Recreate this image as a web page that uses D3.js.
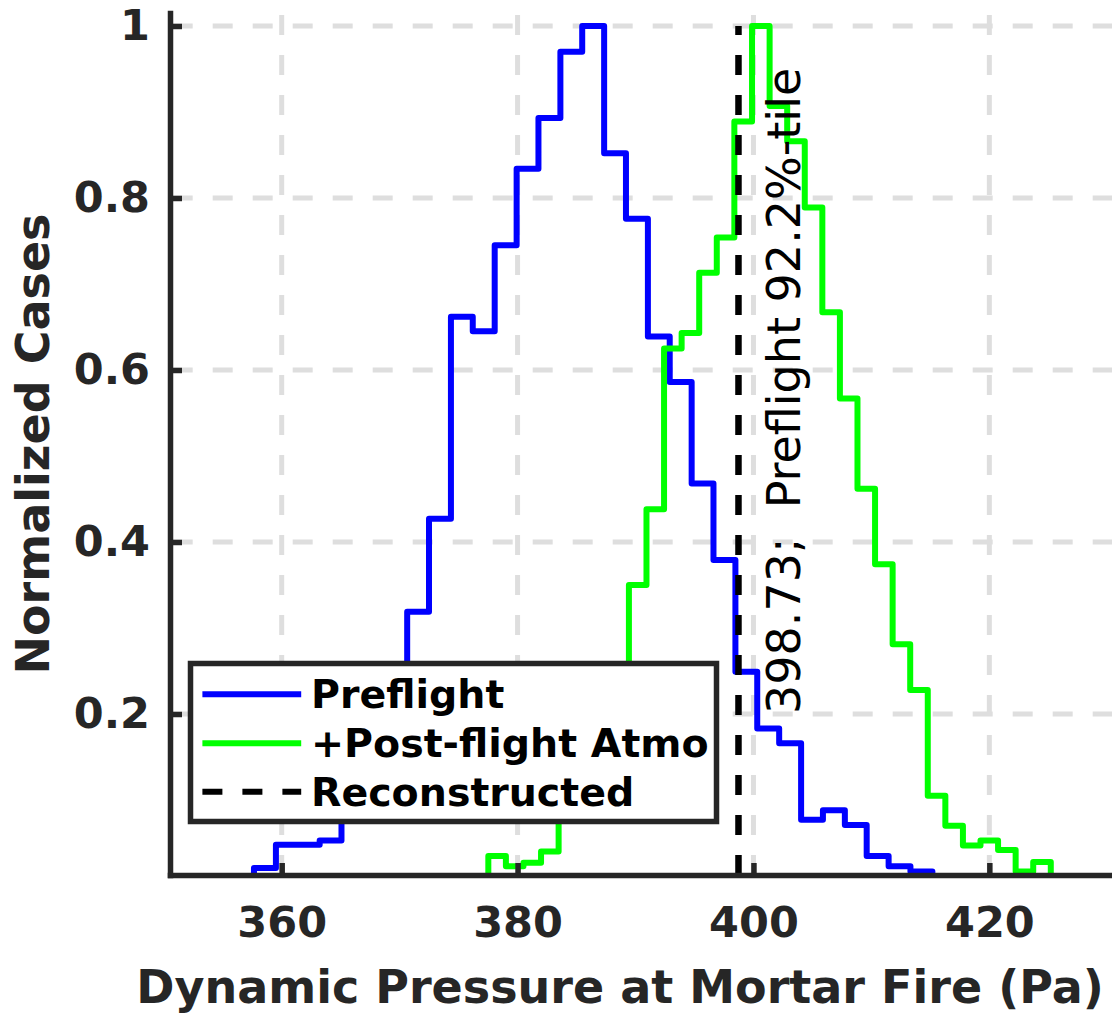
<!DOCTYPE html>
<html>
<head>
<meta charset="utf-8">
<script src="https://cdn.jsdelivr.net/npm/d3@7"></script>
<style>
  html, body { margin: 0; padding: 0; background: #fff; }
  svg { display: block; }
  text { font-family: "DejaVu Sans", sans-serif; }
</style>
</head>
<body>
<svg id="chart" width="1112" height="1016"></svg>
<script>
// ---------- data ----------
const preflightEdges = [357.65, 359.51, 361.36, 363.22, 365.07, 366.93, 368.78, 370.64, 372.49, 374.35,
  376.20, 378.06, 379.92, 381.77, 383.63, 385.48, 387.34, 389.19, 391.05, 392.90,
  394.76, 396.61, 398.47, 400.32, 402.18, 404.04, 405.89, 407.75, 409.60, 411.46,
  413.31, 415.17];
const preflightValues = [0.021, 0.048, 0.048, 0.053, 0.11, 0.17, 0.22, 0.319, 0.427, 0.662,
  0.645, 0.745, 0.834, 0.893, 0.970, 1.0, 0.852, 0.776, 0.639, 0.586,
  0.468, 0.379, 0.249, 0.183, 0.166, 0.077, 0.088, 0.071, 0.035, 0.023,
  0.017];
const postEdges = [377.52, 379.01, 380.50, 381.99, 383.48, 384.97, 386.46, 387.95, 389.44, 390.93,
  392.42, 393.91, 395.40, 396.89, 398.38, 399.88, 401.37, 402.86, 404.35, 405.84,
  407.33, 408.82, 410.31, 411.80, 413.29, 414.78, 416.27, 417.76, 419.25, 420.74,
  422.23, 423.72, 425.21];
const postValues = [0.035, 0.023, 0.027, 0.040, 0.08, 0.12, 0.17, 0.23, 0.350, 0.438,
  0.625, 0.643, 0.713, 0.754, 0.889, 1.0, 0.907, 0.866, 0.789, 0.667,
  0.567, 0.462, 0.374, 0.281, 0.228, 0.105, 0.070, 0.047, 0.053, 0.042,
  0.017, 0.028];
const reconstructed = 398.73;
const percentile = 92.2;
const xTicks = [360, 380, 400, 420];
const yTicks = [0.2, 0.4, 0.6, 0.8, 1];
const yTickLabels = ["0.2", "0.4", "0.6", "0.8", "1"];
const legendLabels = ["Preflight", "+Post-flight Atmo", "Reconstructed"];
const seriesColors = ["#0000ff", "#00ff00", "#000000"];
const xDomain = [350.53, 430.4];
const yDomain = [0.0128, 1.0151];

// ---------- layout ----------
const svg = d3.select("#chart");
const L = 170, R = 1112, T = 13, B = 875;
const axisColor = "#262626";
const x = d3.scaleLinear().domain(xDomain).range([L, R]);
const y = d3.scaleLinear().domain(yDomain).range([B, T]);

svg.append("defs").append("clipPath").attr("id", "plotclip")
  .append("rect").attr("x", L).attr("y", T).attr("width", R - L).attr("height", B - T);

// ---------- grid ----------
const grid = svg.append("g");
grid.selectAll(".hg").data(yTicks).enter().append("line")
  .attr("x1", L).attr("x2", R)
  .attr("y1", d => y(d)).attr("y2", d => y(d))
  .attr("stroke", "#dedede").attr("stroke-width", 5)
  .attr("stroke-dasharray", "20,20").attr("stroke-dashoffset", -2.7);
grid.selectAll(".vg").data(xTicks).enter().append("line")
  .attr("x1", d => x(d)).attr("x2", d => x(d))
  .attr("y1", B).attr("y2", T)
  .attr("stroke", "#dedede").attr("stroke-width", 5)
  .attr("stroke-dasharray", "20,20");

// ---------- histograms ----------
function stairPoints(edges, vals) {
  const pts = [[edges[0], 0]];
  vals.forEach((v, i) => pts.push([edges[i], v]));
  pts.push([edges[edges.length - 1], vals[vals.length - 1]]);
  pts.push([edges[edges.length - 1], 0]);
  return pts;
}
const stair = d3.line().x(d => x(d[0])).y(d => y(d[1])).curve(d3.curveStepAfter);
const plot = svg.append("g").attr("clip-path", "url(#plotclip)");
plot.append("path").attr("d", stair(stairPoints(preflightEdges, preflightValues)))
  .attr("fill", "none").attr("stroke", seriesColors[0]).attr("stroke-width", 6)
  .attr("stroke-linejoin", "round");
plot.append("path").attr("d", stair(stairPoints(postEdges, postValues)))
  .attr("fill", "none").attr("stroke", seriesColors[1]).attr("stroke-width", 6)
  .attr("stroke-linejoin", "round");
plot.append("line")
  .attr("x1", x(reconstructed)).attr("x2", x(reconstructed))
  .attr("y1", y(yDomain[0])).attr("y2", y(1))
  .attr("stroke", seriesColors[2]).attr("stroke-width", 6.5)
  .attr("stroke-dasharray", "20,20");

// ---------- annotation ----------
const ax = x(reconstructed + 5.23), ay = y(0.2);
svg.append("text")
  .attr("transform", `translate(${ax},${ay}) rotate(-90)`)
  .attr("font-size", 46).attr("fill", "#000")
  .style("white-space", "pre")
  .text(`${reconstructed.toFixed(2)};  Preflight ${percentile}%-tile`);

// ---------- axes ----------
const xAxis = d3.axisBottom(x).tickValues(xTicks).tickFormat(d3.format("d"))
  .tickSizeInner(-12).tickSizeOuter(0).tickPadding(31.5);
const yAxis = d3.axisLeft(y).tickValues(yTicks).tickFormat((d, i) => yTickLabels[i])
  .tickSizeInner(-12).tickSizeOuter(0).tickPadding(20);

const gx = svg.append("g").attr("transform", `translate(0,${B})`).call(xAxis);
const gy = svg.append("g").attr("transform", `translate(${L},0)`).call(yAxis);
[gx, gy].forEach(g => {
  g.select(".domain").attr("stroke", axisColor).attr("stroke-width", 5.5).attr("stroke-linecap", "square");
  g.selectAll(".tick line").attr("stroke", axisColor).attr("stroke-width", 5.5);
  g.selectAll(".tick text").attr("fill", axisColor).attr("font-size", 43)
    .attr("font-weight", "bold").attr("font-family", "DejaVu Sans, sans-serif");
});

// ---------- axis labels ----------
svg.append("text").attr("x", 620).attr("y", 1003).attr("text-anchor", "middle")
  .attr("font-size", 46).attr("font-weight", "bold").attr("fill", axisColor)
  .text("Dynamic Pressure at Mortar Fire (Pa)");
svg.append("text").attr("transform", "translate(49,444) rotate(-90)").attr("text-anchor", "middle")
  .attr("font-size", 46).attr("font-weight", "bold").attr("fill", axisColor)
  .text("Normalized Cases");

// ---------- legend ----------
const lg = svg.append("g");
lg.append("rect").attr("x", 190.5).attr("y", 663.5).attr("width", 526).attr("height", 158)
  .attr("fill", "#fff").attr("stroke", axisColor).attr("stroke-width", 5.5);
const rowY = [694.3, 743.3, 791.7];
legendLabels.forEach((lab, i) => {
  const ln = lg.append("line").attr("x1", 202.4).attr("x2", 301.2)
    .attr("y1", rowY[i]).attr("y2", rowY[i])
    .attr("stroke", seriesColors[i]).attr("stroke-width", 6);
  if (i === 2) ln.attr("stroke-dasharray", "20,20");
  lg.append("text").attr("x", 311).attr("y", rowY[i] + 14)
    .attr("font-size", 39.5).attr("font-weight", "bold").attr("fill", "#000")
    .text(lab);
});
</script>
</body>
</html>
